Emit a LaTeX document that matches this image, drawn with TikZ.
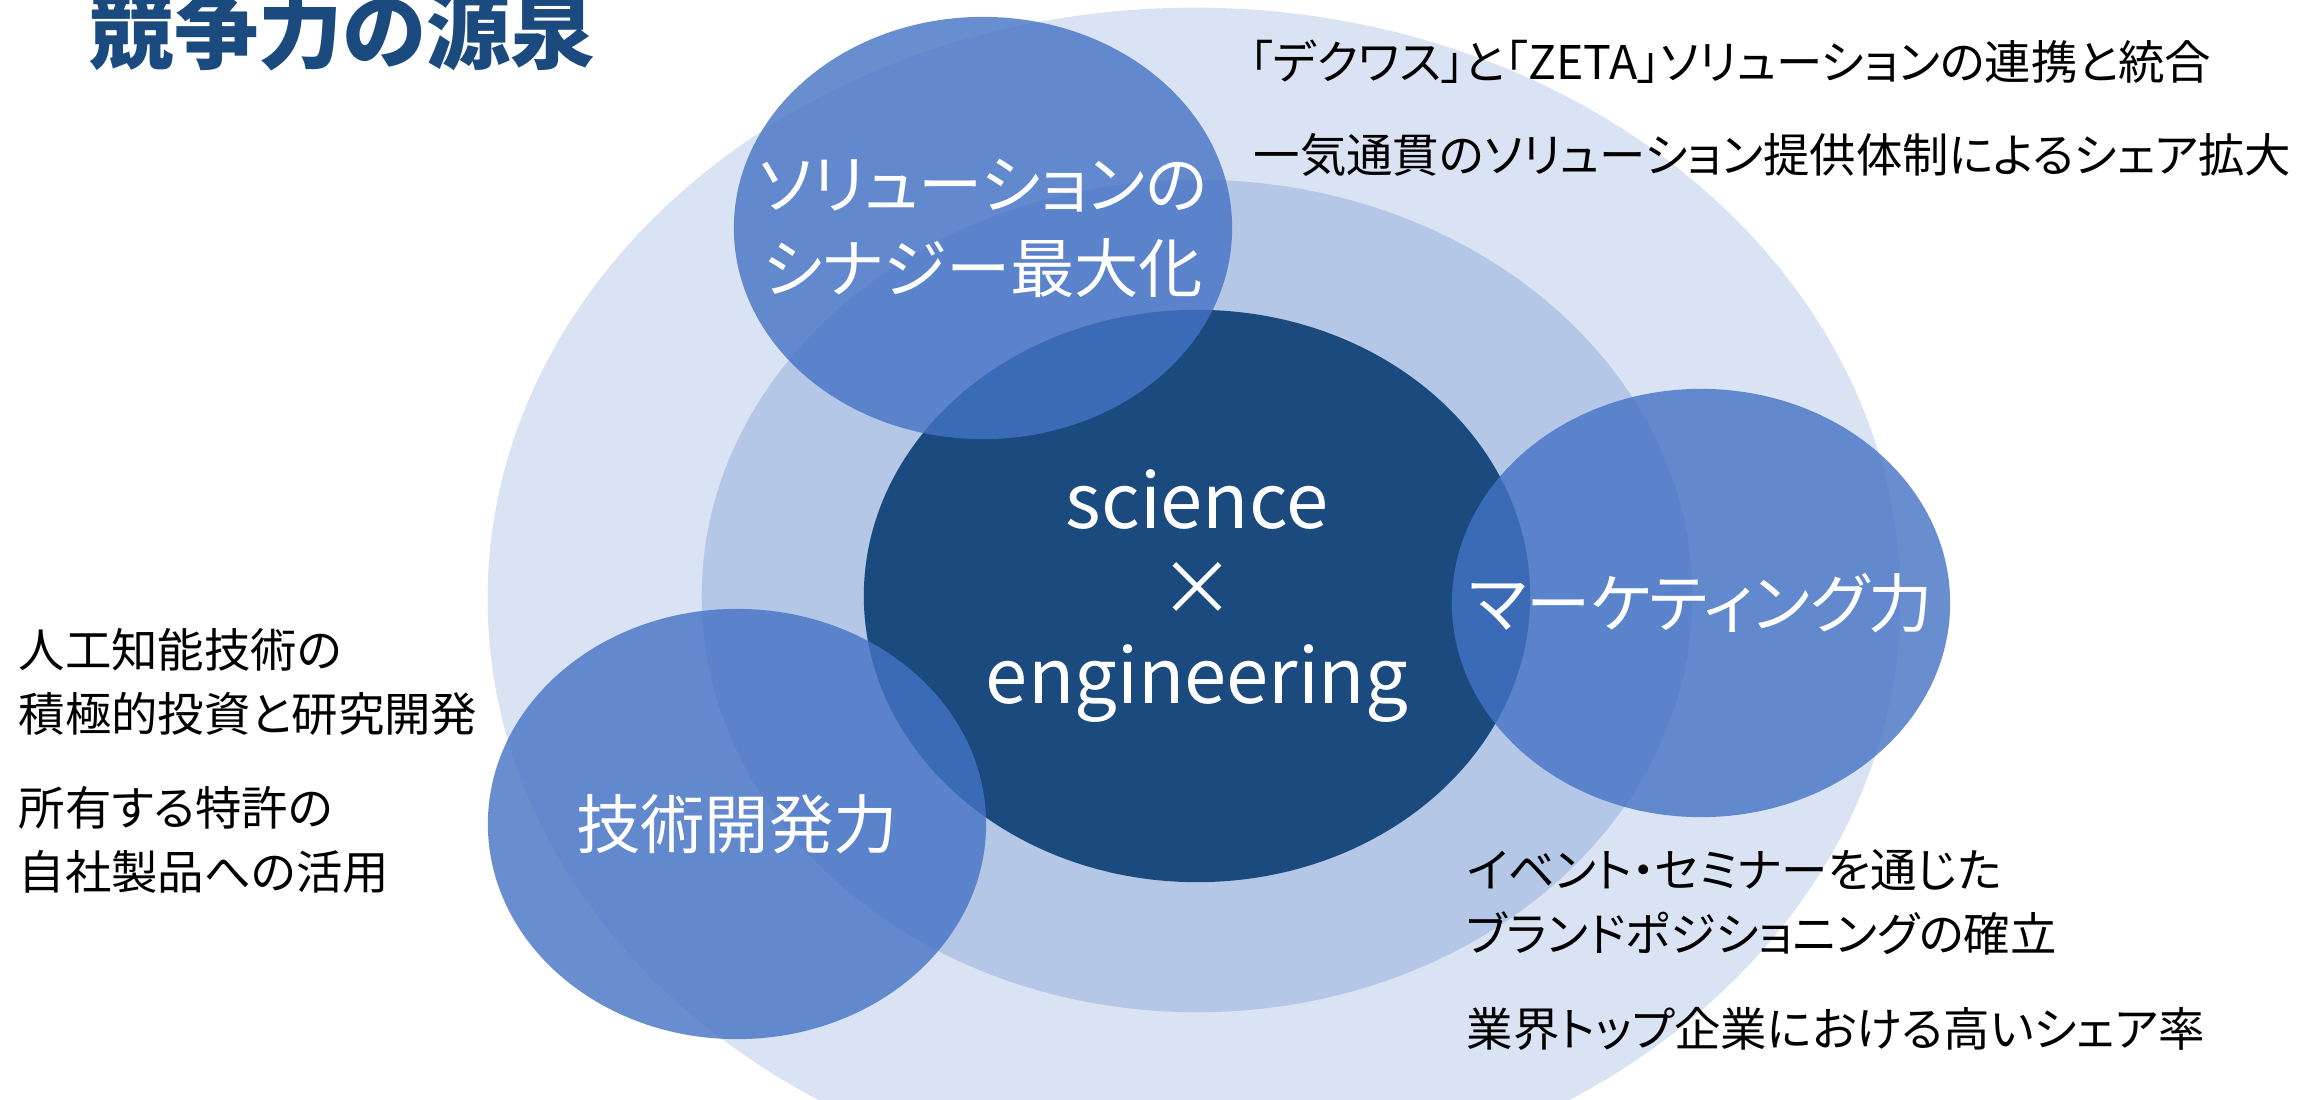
\documentclass[tikz,border=0pt]{standalone}
\usepackage{fontspec}
\setmainfont[RawFeature=+palt]{Noto Sans CJK JP}
\usetikzlibrary{shapes.geometric}

\definecolor{paleblue}{HTML}{DAE3F3}
\definecolor{midblue}{HTML}{B4C7E7}
\definecolor{deepblue}{HTML}{1B4A7F}
\definecolor{lobeblue}{HTML}{4472C4}

\tikzset{
  blob/.style={ellipse, inner sep=0pt},
  lobe/.style={blob, fill=lobeblue, fill opacity=0.8},
  lobetext/.style={text=white, align=center, font=\fontsize{18.3}{23.9}\selectfont},
  note/.style={anchor=west, inner sep=0pt, align=left, font=\fontsize{13.2}{18.2}\selectfont},
}

\begin{document}
\begin{tikzpicture}[x=0.01cm, y=-0.01cm]
  \useasboundingbox (0,0) rectangle (2318,1100);
  \clip (0,0) rectangle (2318,1100);

  % rings
  \node[blob, fill=paleblue, minimum width=14.12cm, minimum height=11.82cm] (outer) at (1194,599) {};
  \node[blob, fill=midblue, minimum width=9.9cm, minimum height=8.32cm] (ring) at (1197,596) {};
  \node[blob, fill=deepblue, minimum width=6.66cm, minimum height=5.72cm] (core) at (1197,596) {};

  % the three lobes
  \node[lobe, minimum width=4.98cm, minimum height=4.22cm] (solution) at (983,228) {};
  \node[lobe, minimum width=4.98cm, minimum height=4.28cm] (marketing) at (1701,603) {};
  \node[lobe, minimum width=4.98cm, minimum height=4.30cm] (techdev) at (737,824) {};

  \node[lobetext] (solutionlabel) at (solution.center) {ソリューションの\\シナジー最大化};
  \node[lobetext] (marketinglabel) at (marketing.center) {マーケティング力};
  \node[lobetext] (techdevlabel) at (techdev.center) {技術開発力};
  \node[text=white, align=center, font=\fontsize{21.6}{25}\selectfont] (corelabel) at (core.center) {science\\×\\engineering};

  % heading
  \node[anchor=west, inner sep=0pt, text=deepblue, font=\fontsize{24}{28}\bfseries] (title) at (89,30) {競争力の源泉};

  % notes
  \node[note] (solnote1) at (1249,62) {「デクワス」と「ZETA」ソリューションの連携と統合};
  \node[note] (solnote2) at (1253,155) {一気通貫のソリューション提供体制によるシェア拡大};
  \node[note] (technote1) at (18,682) {人工知能技術の\\積極的投資と研究開発};
  \node[note] (technote2) at (18,840) {所有する特許の\\自社製品への活用};
  \node[note] (mktnote1) at (1466,902) {イベント・セミナーを通じた\\ブランドポジショニングの確立};
  \node[note] (mktnote2) at (1466,1029) {業界トップ企業における高いシェア率};
\end{tikzpicture}
\end{document}
